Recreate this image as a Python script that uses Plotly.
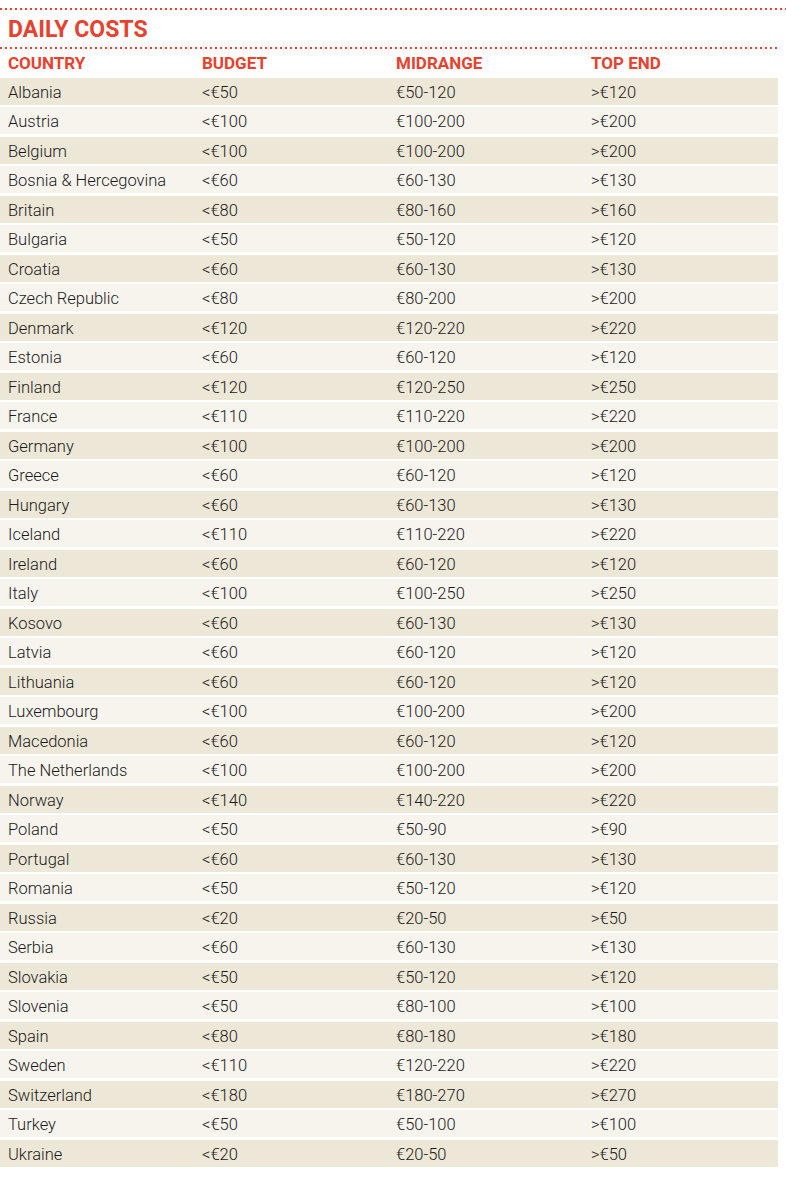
import plotly.graph_objects as go

title = "DAILY COSTS"
headers = ["COUNTRY", "BUDGET", "MIDRANGE", "TOP END"]
countries = ["Albania", "Austria", "Belgium", "Bosnia & Hercegovina", "Britain", "Bulgaria",
             "Croatia", "Czech Republic", "Denmark", "Estonia", "Finland", "France", "Germany",
             "Greece", "Hungary", "Iceland", "Ireland", "Italy", "Kosovo", "Latvia", "Lithuania",
             "Luxembourg", "Macedonia", "The Netherlands", "Norway", "Poland", "Portugal",
             "Romania", "Russia", "Serbia", "Slovakia", "Slovenia", "Spain", "Sweden",
             "Switzerland", "Turkey", "Ukraine"]
budget = ["<€50", "<€100", "<€100", "<€60", "<€80", "<€50", "<€60", "<€80", "<€120", "<€60",
          "<€120", "<€110", "<€100", "<€60", "<€60", "<€110", "<€60", "<€100", "<€60", "<€60",
          "<€60", "<€100", "<€60", "<€100", "<€140", "<€50", "<€60", "<€50", "<€20", "<€60",
          "<€50", "<€50", "<€80", "<€110", "<€180", "<€50", "<€20"]
midrange = ["€50-120", "€100-200", "€100-200", "€60-130", "€80-160", "€50-120", "€60-130",
            "€80-200", "€120-220", "€60-120", "€120-250", "€110-220", "€100-200", "€60-120",
            "€60-130", "€110-220", "€60-120", "€100-250", "€60-130", "€60-120", "€60-120",
            "€100-200", "€60-120", "€100-200", "€140-220", "€50-90", "€60-130", "€50-120",
            "€20-50", "€60-130", "€50-120", "€80-100", "€80-180", "€120-220", "€180-270",
            "€50-100", "€20-50"]
top_end = [">€120", ">€200", ">€200", ">€130", ">€160", ">€120", ">€130", ">€200", ">€220",
           ">€120", ">€250", ">€220", ">€200", ">€120", ">€130", ">€220", ">€120", ">€250",
           ">€130", ">€120", ">€120", ">€200", ">€120", ">€200", ">€220", ">€90", ">€130",
           ">€120", ">€50", ">€130", ">€120", ">€100", ">€180", ">€220", ">€270", ">€100", ">€50"]

RED = "#E8412E"
ODD = "#EDE7D7"
EVEN = "#F7F4EE"
TXT = "#1a1a1a"
FONT = "Roboto"

W, H = 786, 1178
row0 = 91.0
pitch = 29.5
text_dy = 2.5
col_x = [8, 202, 396, 591]
n = len(countries)
ys = [row0 + i * pitch for i in range(n)]

fig = go.Figure()

# row backgrounds
fig.add_trace(go.Bar(
    orientation="h", y=ys, x=[778] * n, base=0, width=27,
    marker=dict(color=[ODD if i % 2 == 0 else EVEN for i in range(n)], line=dict(width=0)),
    hoverinfo="skip", showlegend=False))

# cell text
for cx, col in zip(col_x, [countries, budget, midrange, top_end]):
    fig.add_trace(go.Scatter(
        x=[cx] * n, y=[y + text_dy for y in ys], mode="text", text=col, textposition="middle right",
        textfont=dict(family=FONT, size=16.5, color=TXT, weight=300), hoverinfo="skip", showlegend=False))

# headers
fig.add_trace(go.Scatter(
    x=col_x, y=[65] * 4, mode="text", text=headers,
    textposition="middle right", textfont=dict(family=FONT, size=17, color=RED, weight=700),
    hoverinfo="skip", showlegend=False))

# title
fig.add_trace(go.Scatter(
    x=[8], y=[31], mode="text", text=[title], textposition="middle right",
    textfont=dict(family=FONT, size=23, color=RED, weight=700), hoverinfo="skip", showlegend=False))

# dotted rules
fig.add_shape(type="line", xref="x", yref="y", x0=0, x1=786, y0=9, y1=9,
              line=dict(color=RED, width=2, dash="2px,3px"), layer="above")
fig.add_shape(type="line", xref="x", yref="y", x0=0, x1=778, y0=48, y1=48,
              line=dict(color=RED, width=2, dash="2px,3px"), layer="above")

fig.update_layout(
    width=W, height=H, margin=dict(l=0, r=0, t=0, b=0),
    paper_bgcolor="white", plot_bgcolor="white", bargap=0,
    xaxis=dict(range=[0, W], visible=False, fixedrange=True),
    yaxis=dict(range=[H, 0], visible=False, fixedrange=True),
)
fig.write_html("out.html", config={"displayModeBar": False},
               post_script="document.body.style.margin='0px';document.body.style.overflow='hidden';")
